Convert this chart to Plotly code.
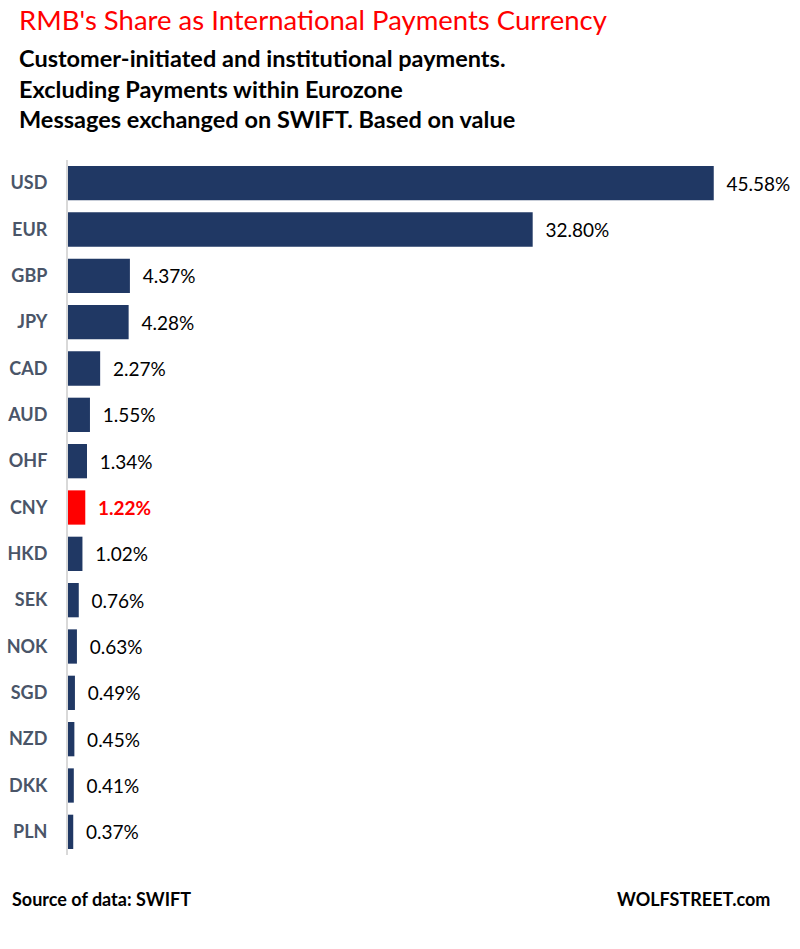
import plotly.graph_objects as go

currencies = ["USD", "EUR", "GBP", "JPY", "CAD", "AUD", "OHF", "CNY",
              "HKD", "SEK", "NOK", "SGD", "NZD", "DKK", "PLN"]
shares = [45.58, 32.80, 4.37, 4.28, 2.27, 1.55, 1.34, 1.22,
          1.02, 0.76, 0.63, 0.49, 0.45, 0.41, 0.37]
highlight = "CNY"

NAVY = "#203864"
RED = "#ff0000"
FONT = "Lato, 'Open Sans', sans-serif"

bar_colors = [RED if c == highlight else NAVY for c in currencies]
text_colors = [RED if c == highlight else "#000000" for c in currencies]
labels = [f"  <b>{v:.2f}%</b>" if c == highlight else f"  {v:.2f}%"
          for c, v in zip(currencies, shares)]

fig = go.Figure()
fig.add_trace(go.Bar(
    x=shares,
    y=currencies,
    orientation="h",
    marker=dict(color=bar_colors, line=dict(width=0)),
    text=labels,
    textposition="outside",
    textfont=dict(family=FONT, size=19, color=text_colors),
    cliponaxis=False,
    hoverinfo="skip",
))

fig.update_layout(
    width=800,
    height=949,
    paper_bgcolor="white",
    plot_bgcolor="white",
    margin=dict(l=68, r=30, t=160, b=94),
    bargap=0.26,
    showlegend=False,
    font=dict(family=FONT),
    xaxis=dict(range=[0, 49.55], visible=False, fixedrange=True),
    yaxis=dict(
        autorange="reversed",
        automargin=False,
        showline=True,
        linecolor="#d9d9d9",
        linewidth=2,
        showgrid=False,
        ticks="",
        ticklabelstandoff=15,
        tickfont=dict(family=FONT, size=18, color="#4a5568", weight="bold"),
        fixedrange=True,
    ),
)

pw = 800 - 68 - 30
ph = 949 - 160 - 94


def px_x(p):
    return (p - 68) / pw


def px_y(p):
    return (949 - 94 - p) / ph


fig.add_annotation(text="RMB's Share as International Payments Currency",
                   xref="paper", yref="paper", x=px_x(17), y=px_y(20),
                   xanchor="left", yanchor="middle", showarrow=False,
                   font=dict(family=FONT, size=27.5, color=RED))
subs = ["Customer-initiated and institutional payments.",
        "Excluding Payments within Eurozone",
        "Messages exchanged on SWIFT. Based on value"]
for i, s in enumerate(subs):
    fig.add_annotation(text=f"<b>{s}</b>", xref="paper", yref="paper",
                       x=px_x(17), y=px_y(58 + 30.5 * i),
                       xanchor="left", yanchor="middle", showarrow=False,
                       font=dict(family=FONT, size=23.5, color="#000000"))

fig.add_annotation(text="<b>Source of data: SWIFT</b>", xref="paper", yref="paper",
                   x=px_x(10), y=px_y(899), xanchor="left", yanchor="middle",
                   showarrow=False, font=dict(family=FONT, size=18, color="#000000"))
fig.add_annotation(text="<b>WOLFSTREET.com</b>", xref="paper", yref="paper",
                   x=px_x(772), y=px_y(899), xanchor="right", yanchor="middle",
                   showarrow=False, font=dict(family=FONT, size=18, color="#000000"))

fig.write_html("out.html", config={"displayModeBar": False},
               post_script="document.body.style.margin = '0';")
